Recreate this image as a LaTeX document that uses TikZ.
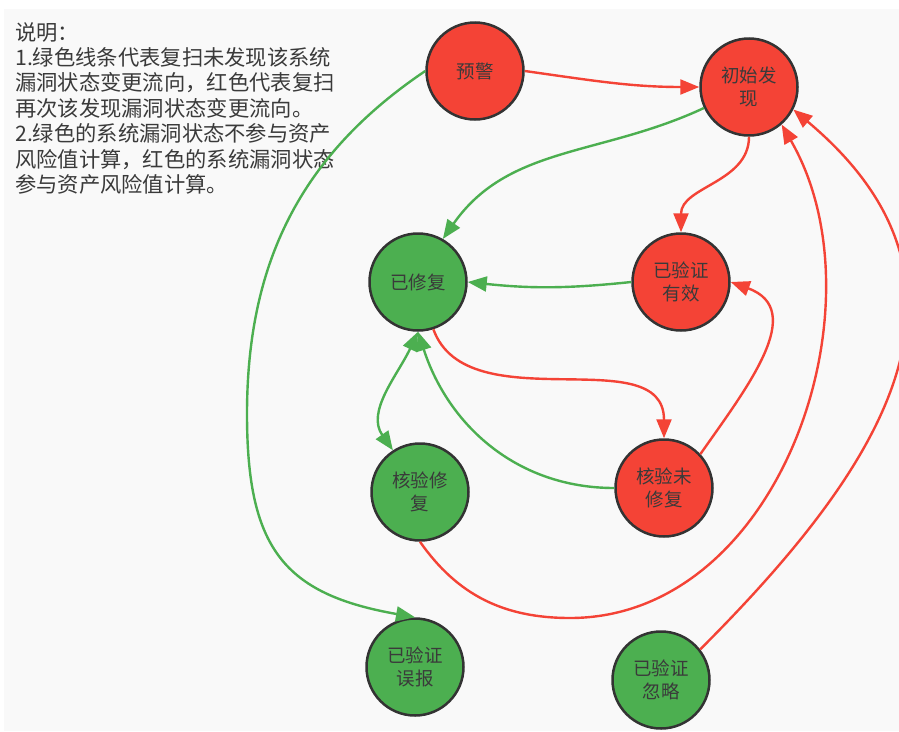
\documentclass[tikz,border=0pt]{standalone}
\usepackage{fontspec}
\setmainfont{Noto Sans CJK SC}
\usepackage{tikz}
\usetikzlibrary{arrows.meta}
\definecolor{hongse}{HTML}{F44336}
\definecolor{lvse}{HTML}{4CAF50}
\definecolor{bianxian}{HTML}{333333}
\definecolor{beijing}{HTML}{F9F9F9}
\definecolor{wenzi}{HTML}{3A3A3A}

\begin{document}
\begin{tikzpicture}[
	  x=1pt,y=-1pt,
	  jiantou/.style={-{Triangle[length=19pt,width=15pt]}},
	  zhuangtai/.style={circle,draw=bianxian,line width=2.5pt,minimum size=97pt,inner sep=0pt,align=center,text=wenzi,font=\fontsize{18.5}{23}\selectfont},
	  hong/.style={zhuangtai,fill=hongse},
	  lv/.style={zhuangtai,fill=lvse},
	  hline/.style={draw=hongse,line width=2.4pt,jiantou},
	  gline/.style={draw=lvse,line width=2.4pt,jiantou},
	  shuoming/.style={anchor=north west,inner sep=0pt,align=left,text=wenzi,font=\fontsize{21.3}{25.4}\selectfont}
	]
		\useasboundingbox (0,0) rectangle (899,731);
		\fill [white] (0,0) rectangle (899,731);
		\fill [beijing] (4,9) rectangle (899,731);
		\node [shuoming,name=sm] at (15,22) {说明：\\1.绿色线条代表复扫未发现该系统\\漏洞状态变更流向，红色代表复扫\\再次该发现漏洞状态变更流向。\\2.绿色的系统漏洞状态不参与资产\\风险值计算，红色的系统漏洞状态\\参与资产风险值计算。};
		\node [hong,name=yujing] at (475,71) {预警};
		\node [hong,name=chushi] at (749,87) {初始发\\现};
		\node [lv,name=yixiufu] at (418,282) {已修复};
		\node [hong,name=youxiao] at (681,282) {已验证\\有效};
		\node [lv,name=hyxiufu] at (420,492) {核验修\\复};
		\node [hong,name=hyweixiu] at (664,488) {核验未\\修复};
		\node [lv,name=wubao] at (415,667) {已验证\\误报};
		\node [lv,name=hulue] at (661,680) {已验证\\忽略};
		\coordinate (zuobian) at (247,414);
		\coordinate (dibu) at (570,618);
		\draw [hline] (yujing.east) to[out=-8,in=180] (chushi.west);
		\draw [gline] (yujing.west) to[out=214,in=90] (zuobian) to[out=-90,in=170,looseness=1.3] (wubao.north);
		\draw [gline] (chushi.205) to[out=205,in=55] (yixiufu.60);
		\draw [hline] (chushi.south) to[out=-90,in=90] (youxiao.north);
		\draw [gline] (youxiao.west) to[bend left=6] (yixiufu.east);
		\draw [hline] (yixiufu.-72) to[out=-70,in=90] (hyweixiu.north);
		\draw [gline] (hyweixiu.west) to[out=180,in=-72] (yixiufu.south);
		\draw [gline,{Triangle[length=19pt,width=15pt]}-{Triangle[length=19pt,width=15pt]}] (yixiufu.south) to[out=-115,in=125] (hyxiufu.123);
		\draw [hline] (hyweixiu.43) to[out=55,in=-20,looseness=1.2] (youxiao.east);
		\draw [hline] (hyxiufu.south) to[out=-55,in=180] (dibu) to[out=0,in=-60] (chushi.-49);
		\draw [hline] (hulue.38) to[out=45,in=-40,looseness=1.25] (chushi.-27);
	\end{tikzpicture}
\end{document}
